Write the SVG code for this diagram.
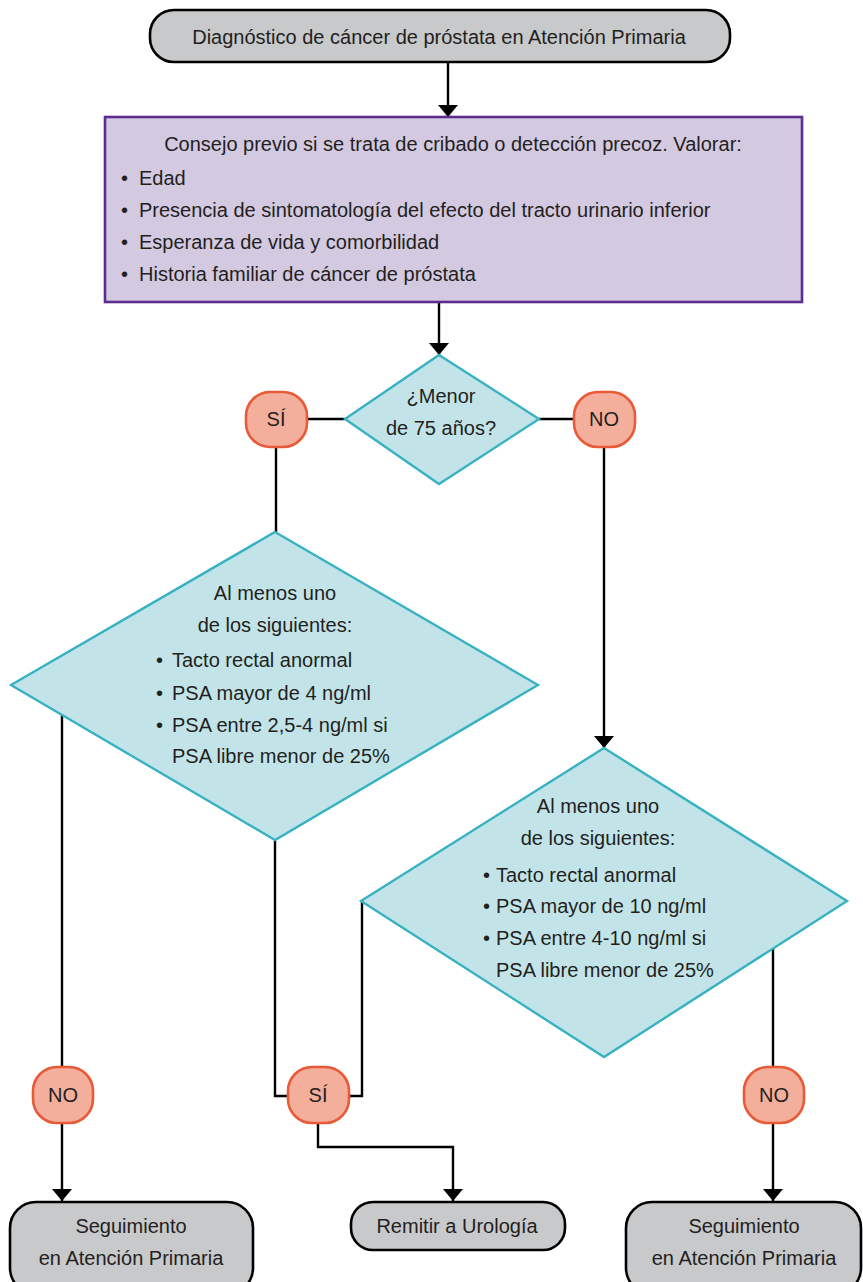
<svg xmlns="http://www.w3.org/2000/svg" width="863" height="1282" viewBox="0 0 863 1282">
<defs>
<style>
text{font-family:"Liberation Sans",Arial,sans-serif;font-size:20px;fill:#231f20}
.c{text-anchor:middle}
.term{fill:#c8c9cb;stroke:#000;stroke-width:2.6}
.proc{fill:#d3c9e1;stroke:#5b2d8e;stroke-width:2.6}
.dec{fill:#c2e4e9;stroke:#38b2c2;stroke-width:2.4}
.pill{fill:#f4af9c;stroke:#e85a38;stroke-width:2.6}
.ln{fill:none;stroke:#000;stroke-width:2.4}
</style>
<marker id="ah" markerUnits="userSpaceOnUse" markerWidth="12" markerHeight="20" refX="12" refY="10" orient="auto">
<path d="M0,0 L12,10 L0,20 z" fill="#000"/>
</marker>
</defs>
<rect width="863" height="1282" fill="#fff"/>

<g id="connectors">
<line class="ln" x1="448" y1="62" x2="448" y2="117" marker-end="url(#ah)"/>
<line class="ln" x1="439" y1="302" x2="439" y2="355" marker-end="url(#ah)"/>
<line class="ln" x1="345" y1="419" x2="307" y2="419"/>
<line class="ln" x1="276" y1="447" x2="276" y2="532"/>
<line class="ln" x1="539" y1="419" x2="574" y2="419"/>
<line class="ln" x1="604" y1="447" x2="604" y2="748" marker-end="url(#ah)"/>
<line class="ln" x1="62" y1="714" x2="62" y2="1067"/>
<line class="ln" x1="62" y1="1123" x2="62" y2="1201" marker-end="url(#ah)"/>
<polyline class="ln" points="275,840 275,1096 288,1096"/>
<polyline class="ln" points="362,900 362,1096 349,1096"/>
<polyline class="ln" points="318,1123 318,1147 453,1147 453,1201" marker-end="url(#ah)"/>
<line class="ln" x1="773" y1="948" x2="773" y2="1067"/>
<line class="ln" x1="773" y1="1123" x2="773" y2="1201" marker-end="url(#ah)"/>
</g>

<g id="start">
<rect class="term" x="150" y="10" width="580" height="52" rx="24"/>
<text class="c" x="439" y="44">Diagnóstico de cáncer de próstata en Atención Primaria</text>
</g>

<g id="consejo">
<rect class="proc" x="105" y="117" width="697" height="185"/>
<text class="c" x="453" y="151">Consejo previo si se trata de cribado o detección precoz. Valorar:</text>
<text><tspan x="121" y="185">•</tspan><tspan x="139" y="185">Edad</tspan></text>
<text><tspan x="121" y="217">•</tspan><tspan x="139" y="217">Presencia de sintomatología del efecto del tracto urinario inferior</tspan></text>
<text><tspan x="121" y="249">•</tspan><tspan x="139" y="249">Esperanza de vida y comorbilidad</tspan></text>
<text><tspan x="121" y="281">•</tspan><tspan x="139" y="281">Historia familiar de cáncer de próstata</tspan></text>
</g>

<g id="edad">
<polygon class="dec" points="439,355 539,419 439,484 345,419"/>
<text class="c" x="441" y="403">¿Menor</text>
<text class="c" x="441" y="435">de 75 años?</text>
</g>

<g id="si1">
<rect class="pill" x="246" y="392" width="61" height="55" rx="24"/>
<text class="c" x="276" y="426">SÍ</text>
</g>

<g id="no1">
<rect class="pill" x="574" y="392" width="61" height="55" rx="24"/>
<text class="c" x="604" y="426">NO</text>
</g>

<g id="criterios1">
<polygon class="dec" points="275,532 538,685 275,840 11,685"/>
<text class="c" x="275" y="600">Al menos uno</text>
<text class="c" x="275" y="632">de los siguientes:</text>
<text><tspan x="156" y="667">•</tspan><tspan x="172" y="667">Tacto rectal anormal</tspan></text>
<text><tspan x="156" y="700">•</tspan><tspan x="172" y="700">PSA mayor de 4 ng/ml</tspan></text>
<text><tspan x="156" y="732">•</tspan><tspan x="172" y="732">PSA entre 2,5-4 ng/ml si</tspan></text>
<text x="172" y="763">PSA libre menor de 25%</text>
</g>

<g id="criterios2">
<polygon class="dec" points="604,748 847,901 604,1057 361,901"/>
<text class="c" x="598" y="813">Al menos uno</text>
<text class="c" x="598" y="845">de los siguientes:</text>
<text><tspan x="483" y="882">•</tspan><tspan x="496" y="882">Tacto rectal anormal</tspan></text>
<text><tspan x="483" y="913">•</tspan><tspan x="496" y="913">PSA mayor de 10 ng/ml</tspan></text>
<text><tspan x="483" y="945">•</tspan><tspan x="496" y="945">PSA entre 4-10 ng/ml si</tspan></text>
<text x="496" y="977">PSA libre menor de 25%</text>
</g>

<g id="no2">
<rect class="pill" x="33" y="1067" width="60" height="56" rx="24"/>
<text class="c" x="63" y="1102">NO</text>
</g>

<g id="si2">
<rect class="pill" x="288" y="1067" width="61" height="56" rx="24"/>
<text class="c" x="318" y="1102">SÍ</text>
</g>

<g id="no3">
<rect class="pill" x="744" y="1067" width="60" height="56" rx="24"/>
<text class="c" x="774" y="1102">NO</text>
</g>

<g id="seguimiento1">
<rect class="term" x="10" y="1202" width="243" height="92" rx="26"/>
<text class="c" x="131" y="1233">Seguimiento</text>
<text class="c" x="131" y="1265">en Atención Primaria</text>
</g>

<g id="urologia">
<rect class="term" x="351" y="1202" width="214" height="48" rx="22"/>
<text class="c" x="457" y="1233">Remitir a Urología</text>
</g>

<g id="seguimiento2">
<rect class="term" x="626" y="1202" width="235" height="92" rx="26"/>
<text class="c" x="744" y="1233">Seguimiento</text>
<text class="c" x="744" y="1265">en Atención Primaria</text>
</g>
</svg>
